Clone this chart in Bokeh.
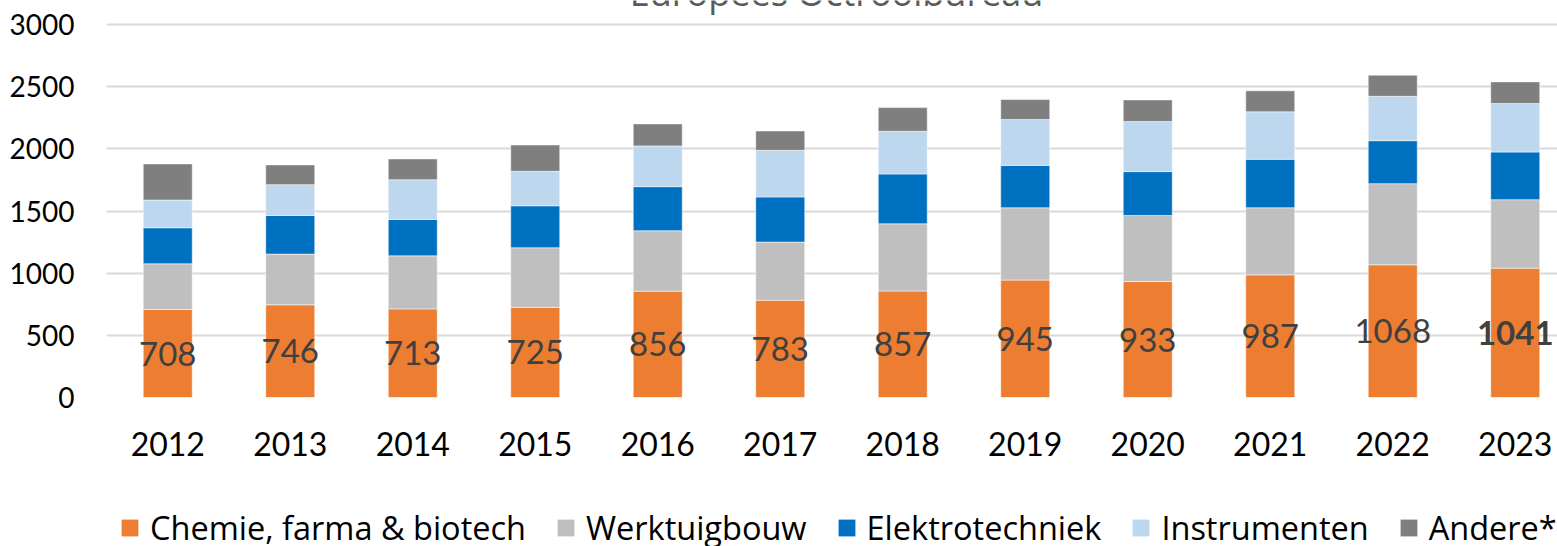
from bokeh.plotting import figure
from bokeh.layouts import column
from bokeh.models import ColumnDataSource, FixedTicker, Legend, LegendItem, Range1d
from bokeh.core.properties import value
from bokeh.embed import file_html
from bokeh.resources import INLINE

years = ["2012", "2013", "2014", "2015", "2016", "2017", "2018", "2019", "2020", "2021", "2022", "2023"]
chemie = [708, 746, 713, 725, 856, 783, 857, 945, 933, 987, 1068, 1041]
werktuigbouw = [368, 408, 427, 480, 486, 468, 541, 582, 532, 540, 653, 551]
elektrotechniek = [290, 311, 293, 338, 355, 363, 401, 341, 353, 390, 346, 384]
instrumenten = [223, 248, 320, 277, 328, 375, 343, 369, 403, 382, 357, 390]
andere = [291, 159, 167, 212, 177, 156, 191, 161, 174, 169, 170, 174]
series_names = ["Chemie, farma & biotech", "Werktuigbouw", "Elektrotechniek", "Instrumenten", "Andere*"]
colors = ["#ED7D31", "#BFBFBF", "#0070C0", "#BDD7EE", "#7F7F7F"]
title_text = "Europees Octrooibureau"

xs = list(range(len(years)))
src = ColumnDataSource(dict(x=xs, chemie=chemie, werktuigbouw=werktuigbouw,
                            elektrotechniek=elektrotechniek, instrumenten=instrumenten,
                            andere=andere))

p = figure(width=1557, height=471, output_backend="svg", toolbar_location=None,
           x_range=Range1d(-0.5, 11.345), y_range=Range1d(0, 3195),
           min_border_left=106, min_border_right=0, min_border_top=0, min_border_bottom=74)
p.outline_line_color = None

keys = ["chemie", "werktuigbouw", "elektrotechniek", "instrumenten", "andere"]
rs = p.vbar_stack(keys, x="x", width=0.4, color=colors, source=src,
                  line_color="white", line_width=1, line_alpha=0.5)

# data labels for Chemie
lab_src = ColumnDataSource(dict(x=xs[:-1], y=[v / 2 for v in chemie[:-1]], t=[str(v) for v in chemie[:-1]]))
p.text(x="x", y="y", text="t", source=lab_src, text_align="center", text_baseline="middle",
       text_font=value("Lato"), text_font_size="33px", text_color="#404040")
lab_src2 = ColumnDataSource(dict(x=xs[-1:], y=[chemie[-1] / 2], t=[str(chemie[-1])]))
p.text(x="x", y="y", text="t", source=lab_src2, text_align="center", text_baseline="middle",
       text_font=value("Lato"), text_font_size="33px", text_color="#404040", text_font_style="bold")

# title, cut off at the top like in the original
p.text(x=[5.46], y=[3066], text=[title_text], text_align="center", text_baseline="bottom",
       text_font=value("Open Sans"), text_font_size="36px", text_color="#595959")

p.xaxis.ticker = FixedTicker(ticks=xs)
p.xaxis.major_label_overrides = {i: y for i, y in enumerate(years)}
p.yaxis.ticker = FixedTicker(ticks=[0, 500, 1000, 1500, 2000, 2500, 3000])
for ax in (p.xaxis, p.yaxis):
    ax.axis_line_color = None
    ax.major_tick_line_color = None
    ax.minor_tick_line_color = None
    ax.major_tick_out = 0
    ax.major_tick_in = 0
    ax.minor_tick_out = 0
    ax.major_label_text_font = "Lato"
    ax.major_label_text_color = "#000000"
p.xaxis.major_label_text_font_size = "32px"
p.xaxis.major_label_standoff = 34
p.yaxis.major_label_text_font_size = "28px"
p.yaxis.major_label_standoff = 32

p.xgrid.grid_line_color = None
p.ygrid.grid_line_color = "#D9D9D9"
p.ygrid.grid_line_width = 2

# legend strip
p2 = figure(width=1557, height=75, output_backend="svg", toolbar_location=None,
            x_range=Range1d(0, 1), y_range=Range1d(0, 1),
            x_axis_location=None, y_axis_location=None,
            min_border_left=0, min_border_right=0, min_border_top=0, min_border_bottom=0)
p2.grid.visible = False
p2.outline_line_color = None
dummies = [p2.vbar(x=[0.5], top=[0], bottom=[0], width=0.1, fill_color=c, line_color=None)
           for c in colors]
items = [LegendItem(label=n, renderers=[r]) for n, r in zip(series_names, dummies)]
legend = Legend(items=items, orientation="horizontal", location=(13, -4),
                label_text_font="Open Sans", label_text_font_size="32.5px", label_text_color="#000000",
                glyph_width=21, glyph_height=21, label_height=21, label_standoff=10,
                spacing=29, padding=0, margin=0, border_line_color=None,
                background_fill_alpha=0)
p2.add_layout(legend, "center")

layout = column(p, p2, spacing=0)
open("out.html", "w").write(file_html(layout, INLINE))
